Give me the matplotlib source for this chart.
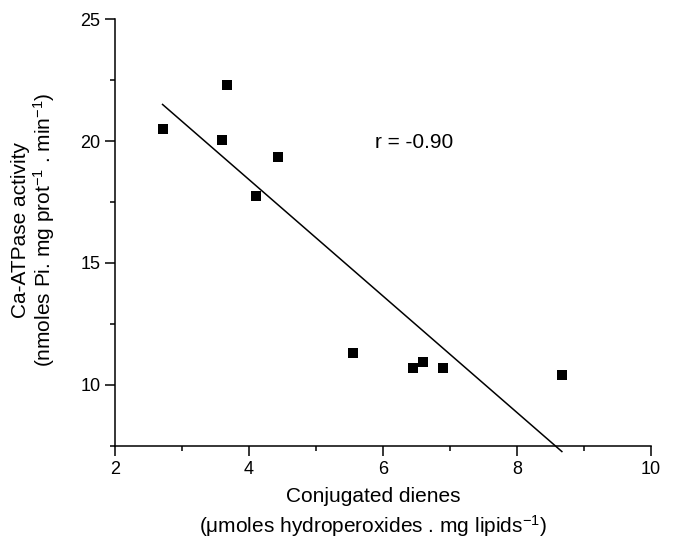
import numpy as np
import matplotlib
matplotlib.use("Agg")
import matplotlib.pyplot as plt
from matplotlib.ticker import MultipleLocator

plt.rcParams['font.family'] = ['Liberation Sans', 'DejaVu Sans']
plt.rcParams['mathtext.fontset'] = 'custom'
plt.rcParams['mathtext.rm'] = 'Liberation Sans'
plt.rcParams['mathtext.it'] = 'Liberation Sans:italic'

# conjugated dienes vs Ca-ATPase activity
dienes = [2.71, 3.67, 3.59, 4.43, 4.10, 5.55, 6.45, 6.59, 6.90, 8.67]
atpase = [20.48, 22.28, 20.05, 19.34, 17.75, 11.30, 10.71, 10.94, 10.70, 10.42]
r_text = "r = -0.90"

x = np.array(dienes)
y = np.array(atpase)

fig = plt.figure(figsize=(6.76, 5.4), dpi=100)
ax = fig.add_axes([0.1701, 0.1741, 0.7929, 0.7907])

ax.plot(x, y, 's', color='black', ms=7, mew=0)

# linear fit, drawn over the data range like Origin does
slope, icpt = np.polyfit(x, y, 1)
xf = np.array([x.min(), x.max()])
ax.plot(xf, slope*xf + icpt, color='black', lw=1.1, clip_on=False)

ax.text(5.88, 19.94, r_text, fontsize=15, ha='left', va='center')

ax.set_xlim(2, 10)
ax.set_ylim(7.5, 25)
ax.xaxis.set_major_locator(MultipleLocator(2))
ax.xaxis.set_minor_locator(MultipleLocator(1))
ax.yaxis.set_major_locator(MultipleLocator(5))
ax.yaxis.set_minor_locator(MultipleLocator(2.5))

for s in ['top', 'right']:
    ax.spines[s].set_visible(False)
for s in ['left', 'bottom']:
    ax.spines[s].set_linewidth(1.1)

ax.tick_params(which='major', direction='out', length=7, width=1.1, labelsize=13)
ax.tick_params(which='minor', direction='out', length=3.6, width=1.1)

# axis titles placed by hand (two lines each)
fig.text(373/676, 1 - 501.7/540, "Conjugated dienes", fontsize=15,
         ha='center', va='baseline')
fig.text(373/676, 1 - 533/540,
         r"(μmoles hydroperoxides . mg lipids$^{-1}$)", fontsize=15,
         ha='center', va='baseline')
fig.text(26.5/676, 1 - 230/540, "Ca-ATPase activity", fontsize=15,
         rotation=90, rotation_mode='anchor', ha='center', va='baseline')
fig.text(51/676, 1 - 230/540,
         r"(nmoles Pi. mg prot$^{-1}$ . min$^{-1}$)", fontsize=15,
         rotation=90, rotation_mode='anchor', ha='center', va='baseline')

fig.savefig("out.png", dpi=100)
